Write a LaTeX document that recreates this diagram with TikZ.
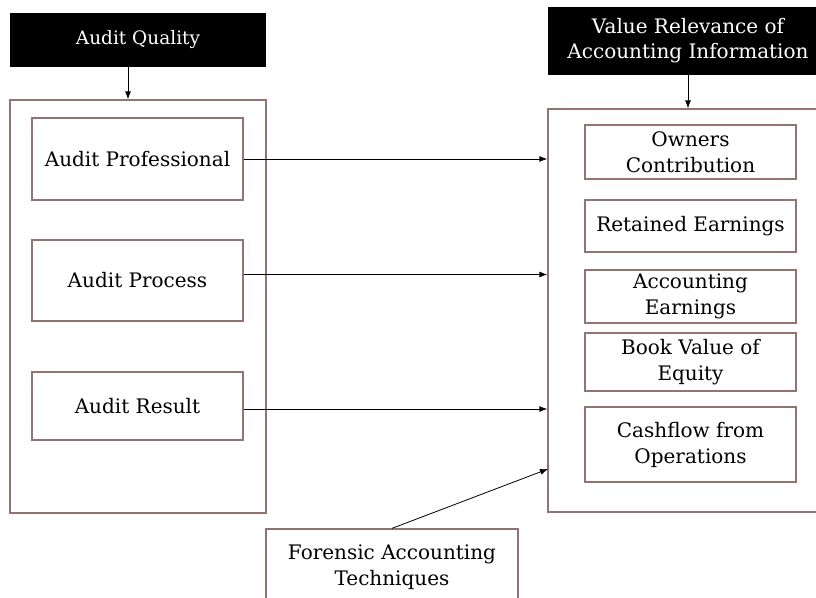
\documentclass[tikz,border=0pt]{standalone}
\usepackage{fontspec}
\setmainfont{DejaVu Serif}
\usepackage{tikz}
\usepackage{xcolor}
\definecolor{BoxLine}{RGB}{150,115,115}
\usetikzlibrary{arrows.meta}

\tikzset{
  headbox/.style={fill=black, text=white, inner sep=0pt, align=center, font=\fontsize{20}{25}\selectfont},
  itembox/.style={draw=BoxLine, line width=1.3pt, inner sep=0pt, align=center, font=\fontsize{20}{26}\selectfont},
  groupbox/.style={draw=BoxLine, line width=1.3pt, inner sep=0pt},
  link/.style={line width=0.8pt, -{Latex[length=8pt, width=6pt]}}
}

\begin{document}
\begin{tikzpicture}[x=1pt, y=-1pt]
\useasboundingbox (0, 0) rectangle (816, 597);

\node[headbox, minimum width=256pt, minimum height=54pt, font=\fontsize{18.5}{25}\selectfont] (quality) at (138, 40) {Audit Quality};
\node[headbox, minimum width=280pt, minimum height=68pt] (relevance) at (688, 41) {Value Relevance of\\Accounting Information};

\node[groupbox, minimum width=256pt, minimum height=413pt] (auditbox) at (138, 306.5) {};
\node[groupbox, minimum width=282pt, minimum height=403pt] (valuebox) at (689, 310.5) {};

\node[itembox, minimum width=211pt, minimum height=82pt] (professional) at (137.5, 159) {Audit Professional};
\node[itembox, minimum width=211pt, minimum height=81pt] (process) at (137.5, 280.5) {Audit Process};
\node[itembox, minimum width=211pt, minimum height=68pt] (result) at (137.5, 406) {Audit Result};

\node[itembox, minimum width=211pt, minimum height=54pt] (owners) at (690.5, 152) {Owners\\Contribution};
\node[itembox, minimum width=211pt, minimum height=52pt] (retained) at (690.5, 226) {Retained Earnings};
\node[itembox, minimum width=211pt, minimum height=53pt] (earnings) at (690.5, 296.5) {Accounting\\Earnings};
\node[itembox, minimum width=211pt, minimum height=58pt] (bookvalue) at (690.5, 362) {Book Value of\\Equity};
\node[itembox, minimum width=211pt, minimum height=75pt] (cashflow) at (690.5, 444.5) {Cashflow from\\Operations};

\node[itembox, minimum width=252pt, minimum height=76pt] (forensic) at (392, 567) {Forensic Accounting\\Techniques};
\coordinate (forensicin) at (548, 469);

\draw[link] ([xshift=-10pt]quality.south) -- ([xshift=-10pt]auditbox.north);
\draw[link] (relevance.south) -- (relevance.south |- valuebox.north);

\draw[link] (professional.east) -- (professional.east -| valuebox.west);
\draw[link] ([yshift=6pt]process.east) -- ([yshift=6pt]process.east -| valuebox.west);
\draw[link] ([yshift=-3pt]result.east) -- ([yshift=-3pt]result.east -| valuebox.west);
\draw[link] (forensic.north) -- (forensicin);
\end{tikzpicture}
\end{document}
